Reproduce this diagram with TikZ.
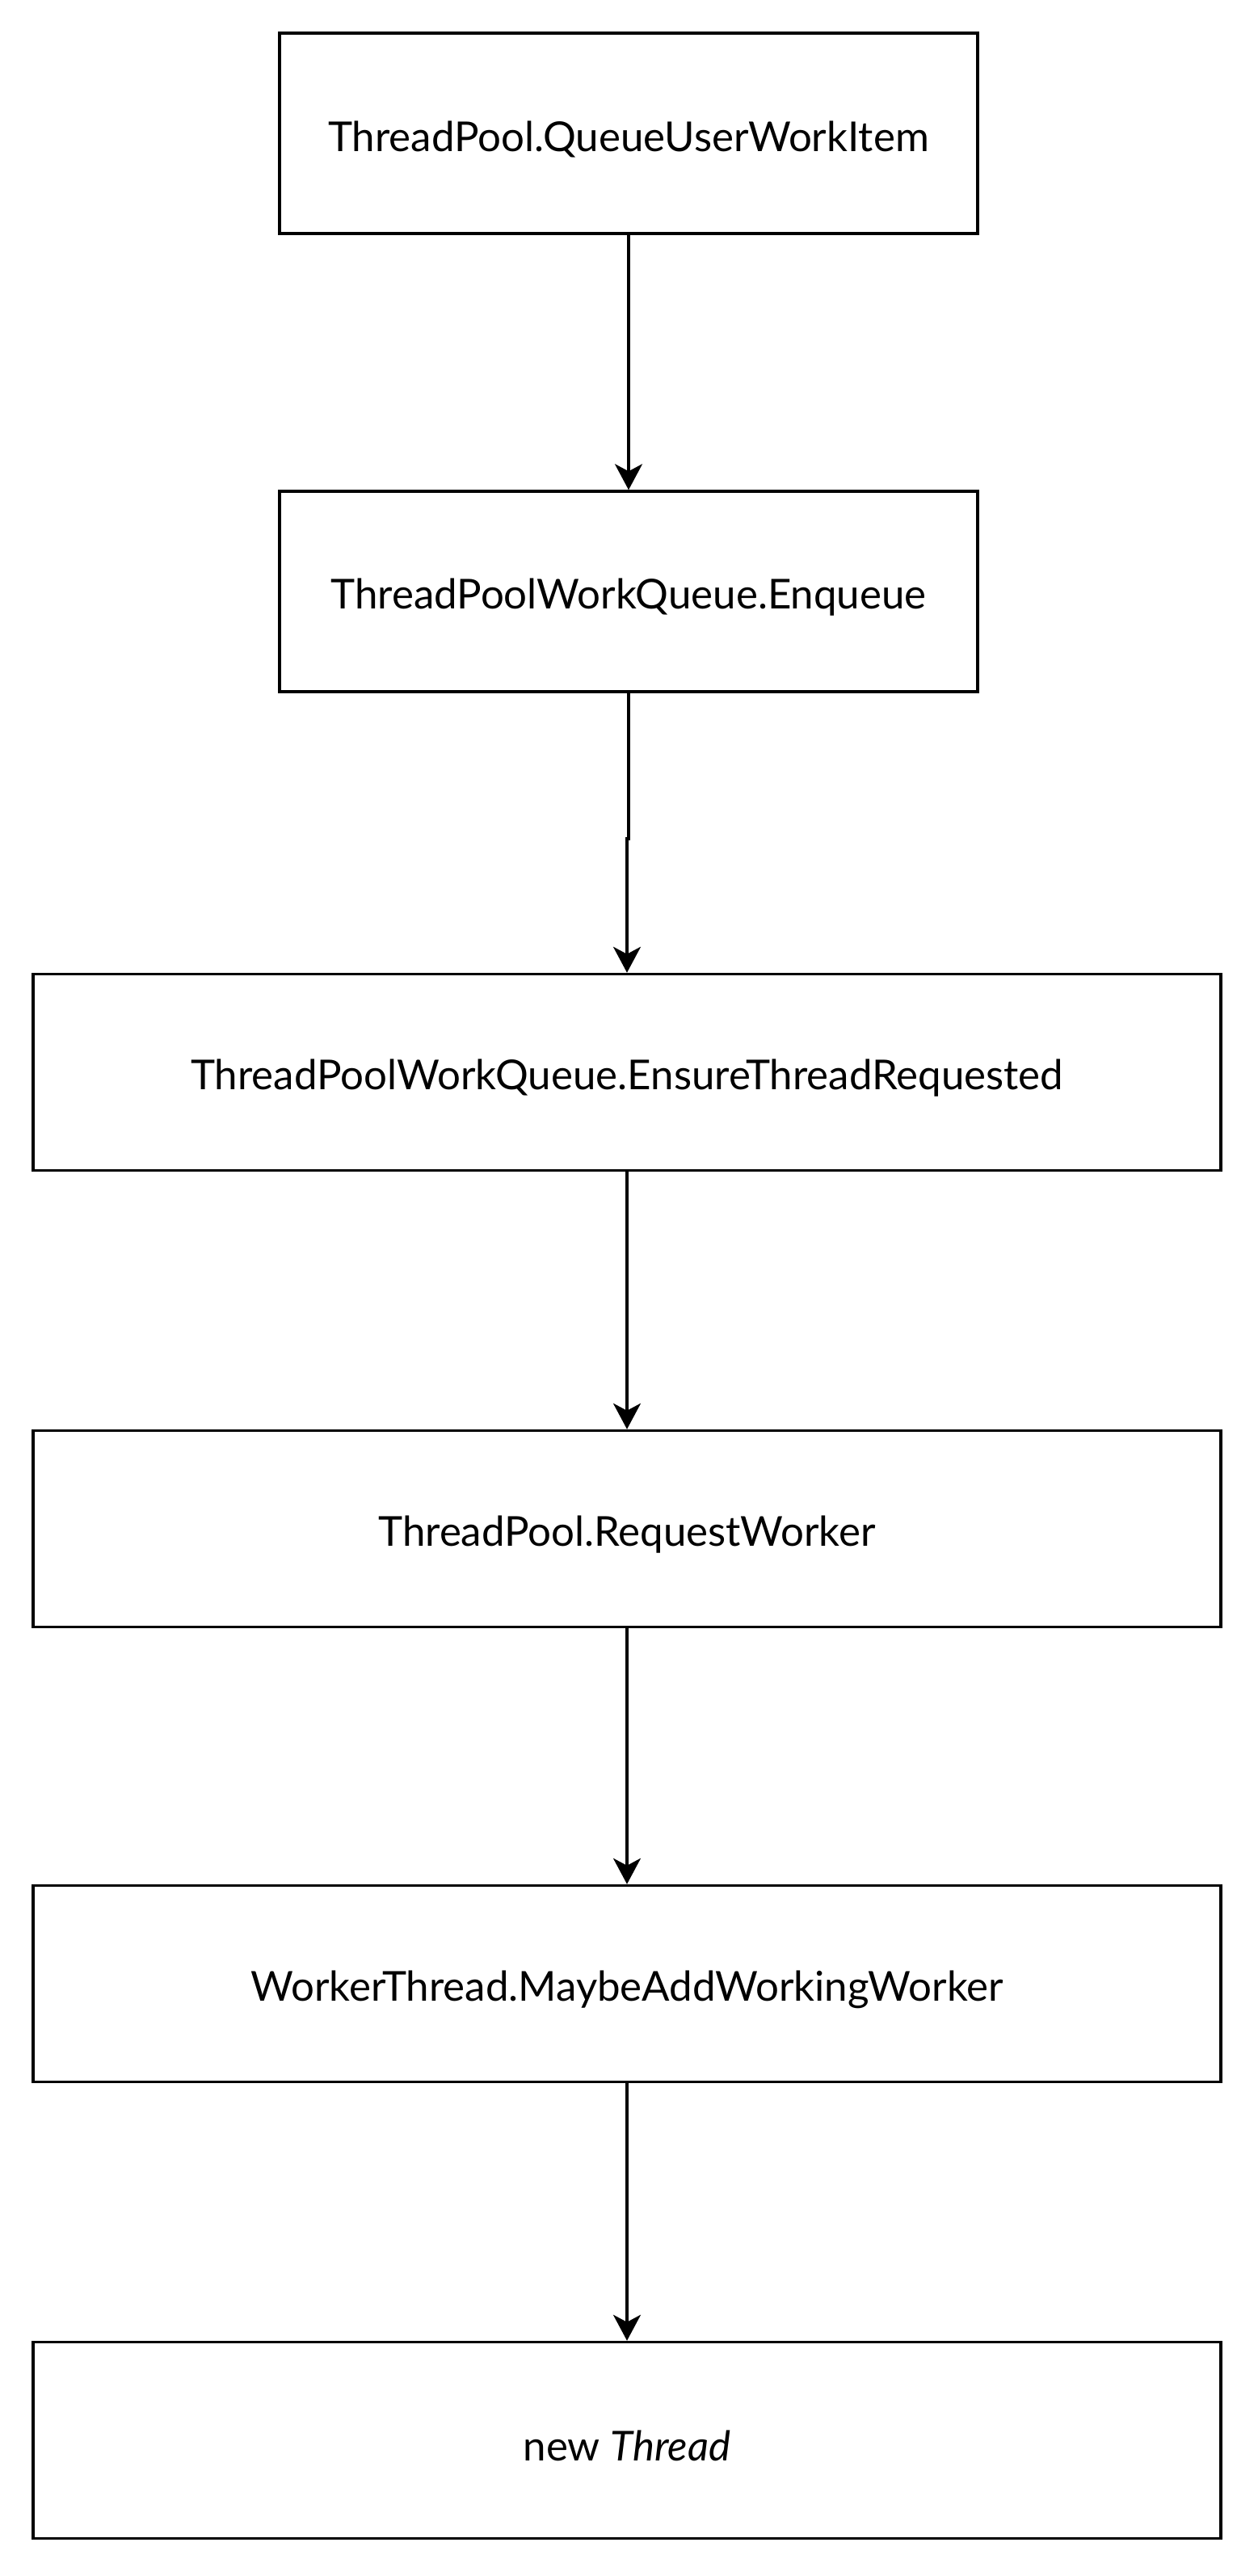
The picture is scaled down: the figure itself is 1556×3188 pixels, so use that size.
\documentclass[tikz,border=0pt]{standalone}
\usepackage{fontspec}
\setmainfont{Lato}
\usetikzlibrary{arrows.meta}
\tikzset{
  callbox/.style={draw=black, line width=3.5pt, inner sep=0pt, align=center,
    font=\fontsize{51}{61}\selectfont},
  narrowbox/.style={callbox, minimum width=864pt, minimum height=248pt},
  widebox/.style={callbox, minimum width=1470pt, minimum height=243pt},
  flow/.style={draw=black, line width=3.5pt, -{Stealth[length=32pt, width=34pt, inset=9pt]}},
  lowtext/.style={label={[font=\fontsize{51}{61}\selectfont, yshift=-7pt]center:#1}}
}
\begin{document}
\begin{tikzpicture}[x=1pt, y=-1pt]
        \useasboundingbox (0,0) rectangle (1556,3188);

        % Call chain, top to bottom
        \node [narrowbox, lowtext={ThreadPool.QueueUserWorkItem}] (queueitem) at (778,165) {};
        \node [narrowbox, lowtext={ThreadPoolWorkQueue.Enqueue}] (enqueue) at (778,732) {};
        \node [widebox, lowtext={ThreadPoolWorkQueue.EnsureThreadRequested}] (ensure) at (776,1327) {};
        \node [widebox, lowtext={ThreadPool.RequestWorker}] (request) at (776,1892) {};
        \node [widebox, lowtext={WorkerThread.MaybeAddWorkingWorker}] (maybeadd) at (776,2455) {};
        \node [widebox, lowtext={new \textit{Thread}}] (newthread) at (776,3020) {};

        % Arrows between calls
        \draw [flow] (queueitem) -- (enqueue);
        \draw [flow] (enqueue.south) -- ++(0,180) -| (ensure.north);
        \draw [flow] (ensure) -- (request);
        \draw [flow] (request) -- (maybeadd);
        \draw [flow] (maybeadd) -- (newthread);
    \end{tikzpicture}
\end{document}
